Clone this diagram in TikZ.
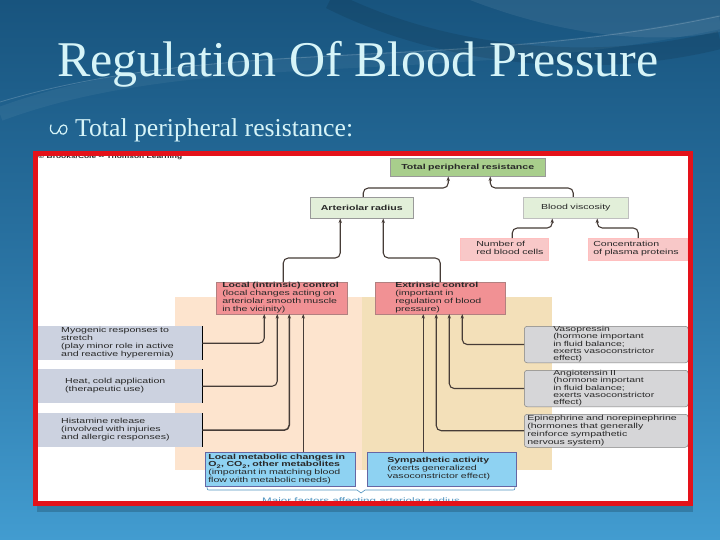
\documentclass[tikz,border=0pt]{standalone}
\usepackage{fontspec}
\setmainfont{Liberation Serif}
\newfontfamily\dg{Liberation Sans}[FakeStretch=1.45]
\usetikzlibrary{arrows.meta}
\definecolor{bgtop}{RGB}{24,84,126}
\definecolor{bgmid}{RGB}{42,116,164}
\definecolor{bgbot}{RGB}{66,156,208}
\definecolor{titlecol}{RGB}{214,244,248}
\definecolor{framered}{RGB}{228,18,26}
\definecolor{tprgreen}{RGB}{168,206,140}
\definecolor{lgreen}{RGB}{226,239,217}
\definecolor{pinkbox}{RGB}{248,200,200}
\definecolor{redbox}{RGB}{241,145,148}
\definecolor{peachbg}{RGB}{253,228,206}
\definecolor{tanbg}{RGB}{243,224,185}
\definecolor{lgrey}{RGB}{204,210,224}
\definecolor{rgrey}{RGB}{214,214,216}
\definecolor{bluebox}{RGB}{142,210,242}
\definecolor{conncol}{RGB}{70,60,55}
\definecolor{txt}{RGB}{40,40,40}
\definecolor{capcol}{RGB}{80,148,192}
\newcommand\txtblk[2]{\hspace*{#1}\begin{tabular}{@{}l@{}}#2\end{tabular}}
\tikzset{
  dtext/.style={font=\dg\fontsize{7.3}{7.9}\selectfont, text=txt},
  bx/.style={dtext, anchor=north west, inner xsep=0pt, inner ysep=0pt, align=left},
  bxc/.style={dtext, anchor=north west, inner xsep=0pt, inner ysep=0pt, align=center},
  conn/.style={draw=conncol, line width=1.1pt, rounded corners=5pt, -{Stealth[length=4.5pt,width=3.4pt]}},
  connb/.style={conn, line width=1.5pt},
  greybox/.style={bx, fill=lgrey, minimum width=164pt, text width=164pt, minimum height=34pt},
  hormbox/.style={bx, fill=rgrey, draw=black!50, line width=.5pt, rounded corners=3pt, minimum width=164pt, text width=164pt},
}
\begin{document}
\begin{tikzpicture}[x=1pt,y=-1pt]
\useasboundingbox (0,0) rectangle (720,540);
% background
\shade[top color=bgtop, bottom color=bgbot, middle color=bgmid] (0,0) rectangle (720,540);
\fill[white, opacity=.07] (470,0) .. controls (560,35) and (650,45) .. (720,32) -- (720,0) -- cycle;
\draw[white, opacity=.05, line width=14pt] (0,114) .. controls (200,40) and (450,80) .. (720,22);
\draw[white, opacity=.18, line width=.8pt] (0,102) .. controls (220,36) and (460,72) .. (720,16);
\draw[black, opacity=.10, line width=18pt] (330,0) .. controls (450,60) and (600,70) .. (720,40);
% title
\node[font=\fontsize{50}{50}\selectfont, text=titlecol, anchor=base, inner sep=0pt] (title) at (358,77) {Regulation Of Blood Pressure};
\draw[titlecol, line width=1.2pt, line cap=round] (51,125) .. controls (48,134) and (57,137) .. (59,130) .. controls (60,124) and (67,123) .. (67,129) .. controls (67,135) and (60,136) .. (60,131);
\node[font=\fontsize{25.7}{26}\selectfont, text=titlecol, anchor=base west, inner sep=0pt] (sub) at (75,137) {Total peripheral resistance:};
% diagram panel
\fill[white] (35,153) rectangle (691,504);
\fill[peachbg] (175,297) rectangle (362,470);
\fill[tanbg] (362,297) rectangle (552,470);
\node[font=\dg\bfseries\fontsize{5.8}{6}\selectfont, text=txt, anchor=base west, inner sep=0pt] (copy) at (38,158.3) {\copyright\ Brooks/Cole -- Thomson Learning};
% top boxes
\node[bxc, fill=tprgreen, draw=black!40, line width=.5pt, minimum width=155pt, text width=155pt, minimum height=18pt] (tpr) at (390,158) {\bfseries Total peripheral resistance};
\node[bxc, fill=lgreen, draw=black!40, line width=.5pt, minimum width=103pt, text width=103pt, minimum height=21pt] (arter) at (310,197) {\bfseries Arteriolar radius};
\node[bxc, fill=lgreen, draw=black!25, line width=.5pt, minimum width=105pt, text width=105pt, minimum height=21pt] (visc) at (523,197) {Blood viscosity};
\node[bx, fill=pinkbox, draw=red!25, line width=.5pt, minimum width=88pt, text width=88pt, minimum height=22pt] (rbc) at (460,238) {\txtblk{16pt}{Number of\\red blood cells}};
\node[bx, fill=pinkbox, draw=red!25, line width=.5pt, minimum width=99pt, text width=99pt, minimum height=22pt] (plasma) at (588,238) {\txtblk{5pt}{Concentration\\of plasma proteins}};
% control boxes
\node[bx, fill=redbox, draw=red!40!black!50, line width=.5pt, minimum width=131pt, text width=131pt, minimum height=31pt] (loc) at (216,282) {\txtblk{6pt}{\bfseries Local (intrinsic) control\\(local changes acting on\\arteriolar smooth muscle\\in the vicinity)}};
\node[bx, fill=redbox, draw=red!40!black!50, line width=.5pt, minimum width=130pt, text width=130pt, minimum height=31pt] (ext) at (375,282) {\txtblk{20pt}{\bfseries Extrinsic control\\(important in\\regulation of blood\\pressure)}};
% left grey boxes
\node[greybox] (myo) at (38,326) {\txtblk{23pt}{Myogenic responses to\\stretch\\(play minor role in active\\and reactive hyperemia)}};
\node[greybox] (heat) at (38,369) {\txtblk{27pt}{Heat, cold application\\(therapeutic use)}};
\node[greybox] (hist) at (38,413) {\txtblk{23pt}{Histamine release\\(involved with injuries\\and allergic responses)}};
\foreach \b in {myo,heat,hist} \draw[black, line width=1pt] (\b.north east) -- (\b.south east);
% right hormone boxes
\node[hormbox, font=\dg\fontsize{7.2}{7}\selectfont, minimum height=35pt] (vaso) at (524,326) {\txtblk{29pt}{Vasopressin\\(hormone important\\in fluid balance;\\exerts vasoconstrictor\\effect)}};
\node[hormbox, font=\dg\fontsize{7.2}{7}\selectfont, minimum height=34pt] (angio) at (524,370) {\txtblk{29pt}{Angiotensin II\\(hormone important\\in fluid balance;\\exerts vasoconstrictor\\effect)}};
\node[hormbox, minimum height=33pt] (epi) at (524,414) {\txtblk{3pt}{Epinephrine and norepinephrine\\(hormones that generally\\reinforce sympathetic\\nervous system)}};
% blue boxes
\node[bx, fill=bluebox, draw=black!60!blue!60, line width=.6pt, minimum width=150pt, text width=150pt, minimum height=34pt] (met) at (205,452) {\txtblk{3pt}{\bfseries Local metabolic changes in\\\bfseries O\textsubscript{2}, CO\textsubscript{2}, other metabolites\\(important in matching blood\\flow with metabolic needs)}};
\node[bx, fill=bluebox, draw=black!60!blue!60, line width=.6pt, minimum width=149pt, text width=149pt, minimum height=34pt] (symp) at (367,452) {\txtblk{20pt}{\bfseries Sympathetic activity\\(exerts generalized\\vasoconstrictor effect)}};
% connectors
\draw[conn] ([xshift=1.5pt]arter.north) -- ++(0,-9) -| ([xshift=-19.5pt]tpr.south);
\draw[conn] ([xshift=-2.5pt]visc.north) -- ++(0,-9) -| ([xshift=22.5pt]tpr.south);
\draw[conn] ([xshift=8pt]rbc.north) -- ++(0,-10) -| ([xshift=-23.5pt]visc.south);
\draw[conn] ([xshift=0.5pt]plasma.north) -- ++(0,-10) -| ([xshift=21.5pt]visc.south);
\draw[conn] ([xshift=1.5pt]loc.north) -- ++(0,-24) -| ([xshift=-21.5pt]arter.south);
\draw[conn] (ext.north) -- ++(0,-24) -| ([xshift=21.5pt]arter.south);
\draw[conn] (myo.east) -| ([xshift=-17.5pt]loc.south);
\draw[conn] (heat.east) -| ([xshift=-4.5pt]loc.south);
\draw[connb] (hist.east) -| ([xshift=7.5pt]loc.south);
\coordinate (l4) at ([xshift=21.5pt]loc.south);
\draw[connb] (l4 |- met.north) -- (l4);
\draw[conn] (vaso.west) -| ([xshift=22pt]ext.south);
\draw[conn] (angio.west) -| ([xshift=9pt]ext.south);
\draw[conn] (epi.west) -| ([xshift=-4pt]ext.south);
\coordinate (e4) at ([xshift=-17pt]ext.south);
\draw[connb] (e4 |- symp.north) -- (e4);
% caption brace
\draw[capcol, line width=.6pt] (207,487) .. controls (207,490) .. (211,490) -- (357,490) -- (361,493) -- (365,490) -- (511,490) .. controls (515,490) .. (515,487);
\node[font=\dg\fontsize{8}{8}\selectfont, text=capcol, anchor=base, inner sep=0pt] (cap) at (361,503) {Major factors affecting arteriolar radius};
% frame
\fill[black, opacity=.18] (37,506) rectangle (693,512);
\draw[framered, line width=5pt] (35.5,153.5) rectangle (690.5,503.5);
\end{tikzpicture}
\end{document}
